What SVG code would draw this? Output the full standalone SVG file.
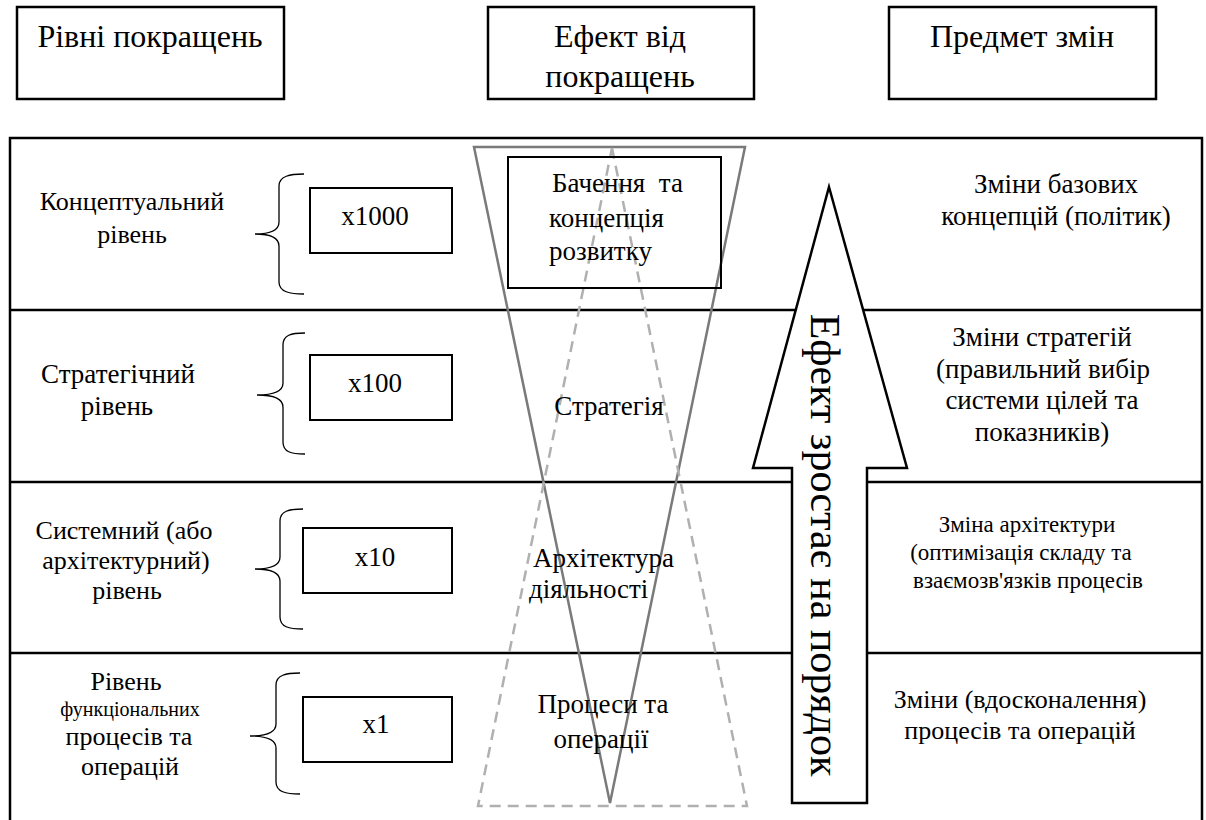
<svg xmlns="http://www.w3.org/2000/svg" width="1206" height="820" viewBox="0 0 1206 820">
<style>
.box{fill:none;stroke:#000;stroke-width:2.5}
.ib{fill:none;stroke:#000;stroke-width:2}
.ln{stroke:#000;stroke-width:2.5;fill:none}
.br{fill:none;stroke:#000;stroke-width:1.3}
</style>

<g id="frame">
<path class="ln" d="M10,820 V138 H1202 V820"/>
<line class="ln" x1="10" y1="310" x2="1202" y2="310"/>
<line class="ln" x1="10" y1="482" x2="1202" y2="482"/>
<line class="ln" x1="10" y1="653" x2="1202" y2="653"/>
</g>

<g id="header-levels">
<rect class="box" x="17" y="7" width="267" height="92"/>
<text x="150" y="47" style="font-family:Times New Roman;font-size:32px;text-anchor:middle">Рівні покращень</text>
</g>
<g id="header-effect">
<rect class="box" x="488" y="7" width="266" height="92"/>
<text x="620" y="47" style="font-family:Times New Roman;font-size:32px;text-anchor:middle">Ефект від</text>
<text x="620" y="87" style="font-family:Times New Roman;font-size:32px;text-anchor:middle">покращень</text>
</g>
<g id="header-subject">
<rect class="box" x="889" y="7" width="267" height="92"/>
<text x="1022" y="47" style="font-family:Times New Roman;font-size:32px;text-anchor:middle">Предмет змін</text>
</g>

<g id="triangles">
<polygon points="474,147 745,147 610,803" fill="none" stroke="#7a7a7a" stroke-width="2.5"/>
<polygon points="612,148 747,806 478,806" fill="none" stroke="#b0b0b0" stroke-width="2.5" stroke-dasharray="11,7"/>
</g>

<g id="arrow">
<polygon points="829,187 907,468 867,468 867,803 792,803 792,468 753,468" fill="#fff" stroke="#000" stroke-width="2.5" stroke-linejoin="miter"/>
<text transform="translate(811,545) rotate(90)" x="0" y="0" style="font-family:Times New Roman;font-size:42px;text-anchor:middle">Ефект зростає на порядок</text>
</g>

<g id="level-conceptual">
<text x="132" y="210" style="font-family:Times New Roman;font-size:26px;text-anchor:middle">Концептуальний</text>
<text x="132" y="243" style="font-family:Times New Roman;font-size:26px;text-anchor:middle">рівень</text>
<path class="br" d="M304,174 C290,174 279,176 279,186 L279,222 C279,230 270,234 255,234 C270,234 279,238 279,246 L279,282 C279,292 290,294 304,294"/>
<rect class="ib" x="310" y="188" width="142" height="65"/>
<text x="375" y="225" style="font-family:Times New Roman;font-size:27px;text-anchor:middle">x1000</text>
</g>

<g id="level-strategic">
<text x="118" y="383" style="font-family:Times New Roman;font-size:27px;text-anchor:middle">Стратегічний</text>
<text x="117" y="415" style="font-family:Times New Roman;font-size:27px;text-anchor:middle">рівень</text>
<path class="br" d="M305,333 C291,333 283,335 283,345 L283,383 C283,391 274,395 257,395 C274,395 283,399 283,407 L283,442 C283,452 291,454 305,454"/>
<rect class="ib" x="310" y="355" width="142" height="65"/>
<text x="375" y="392" style="font-family:Times New Roman;font-size:27px;text-anchor:middle">x100</text>
</g>

<g id="level-system">
<text x="124" y="539" style="font-family:Times New Roman;font-size:26px;text-anchor:middle">Системний (або</text>
<text x="126" y="569" style="font-family:Times New Roman;font-size:26px;text-anchor:middle">архітектурний)</text>
<text x="127" y="599" style="font-family:Times New Roman;font-size:26px;text-anchor:middle">рівень</text>
<path class="br" d="M303,509 C289,509 280,511 280,521 L280,557 C280,565 271,569 255,569 C271,569 280,573 280,581 L280,617 C280,627 289,629 303,629"/>
<rect class="ib" x="303" y="528" width="149" height="65"/>
<text x="375" y="566" style="font-family:Times New Roman;font-size:27px;text-anchor:middle">x10</text>
</g>

<g id="level-process">
<text x="126" y="690" style="font-family:Times New Roman;font-size:26px;text-anchor:middle">Рівень</text>
<text x="130" y="716" style="font-family:Times New Roman;font-size:20px;text-anchor:middle">функціональних</text>
<text x="129" y="745" style="font-family:Times New Roman;font-size:26px;text-anchor:middle">процесів та</text>
<text x="130" y="775" style="font-family:Times New Roman;font-size:26px;text-anchor:middle">операцій</text>
<path class="br" d="M300,673 C286,673 276,675 276,685 L276,724 C276,732 267,736 250,736 C267,736 276,740 276,748 L276,782 C276,792 286,794 300,794"/>
<rect class="ib" x="303" y="697" width="149" height="65"/>
<text x="376" y="733" style="font-family:Times New Roman;font-size:27px;text-anchor:middle">x1</text>
</g>

<g id="effect-vision">
<rect class="ib" x="508" y="157" width="213" height="131"/>
<text x="552" y="192" xml:space="preserve" style="font-family:Times New Roman;font-size:27px">Бачення  та</text>
<text x="549" y="227" style="font-family:Times New Roman;font-size:27px">концепція</text>
<text x="549" y="260" style="font-family:Times New Roman;font-size:27px">розвитку</text>
</g>
<g id="effect-strategy">
<text x="609" y="415" style="font-family:Times New Roman;font-size:27px;text-anchor:middle">Стратегія</text>
</g>
<g id="effect-architecture">
<text x="533" y="567" style="font-family:Times New Roman;font-size:27px">Архітектура</text>
<text x="529" y="598" style="font-family:Times New Roman;font-size:27px">діяльності</text>
</g>
<g id="effect-process">
<text x="603" y="713" style="font-family:Times New Roman;font-size:27px;text-anchor:middle">Процеси та</text>
<text x="601" y="748" style="font-family:Times New Roman;font-size:27px;text-anchor:middle">операції</text>
</g>

<g id="subject-concept">
<text x="1056" y="193" style="font-family:Times New Roman;font-size:27px;text-anchor:middle">Зміни базових</text>
<text x="1056" y="225" style="font-family:Times New Roman;font-size:27px;text-anchor:middle">концепцій (політик)</text>
</g>
<g id="subject-strategy">
<text x="1042" y="346" style="font-family:Times New Roman;font-size:27px;text-anchor:middle">Зміни стратегій</text>
<text x="1043" y="378" style="font-family:Times New Roman;font-size:27px;text-anchor:middle">(правильний вибір</text>
<text x="1042" y="409" style="font-family:Times New Roman;font-size:27px;text-anchor:middle">системи цілей та</text>
<text x="1042" y="441" style="font-family:Times New Roman;font-size:27px;text-anchor:middle">показників)</text>
</g>
<g id="subject-architecture">
<text x="1027" y="532" style="font-family:Times New Roman;font-size:23px;text-anchor:middle">Зміна архітектури</text>
<text x="1021" y="560" style="font-family:Times New Roman;font-size:23px;text-anchor:middle">(оптимізація складу та</text>
<text x="1028" y="588" style="font-family:Times New Roman;font-size:23px;text-anchor:middle">взаємозв'язків процесів</text>
</g>
<g id="subject-process">
<text x="1020" y="708" style="font-family:Times New Roman;font-size:26px;text-anchor:middle">Зміни (вдосконалення)</text>
<text x="1020" y="739" style="font-family:Times New Roman;font-size:26px;text-anchor:middle">процесів та операцій</text>
</g>
</svg>
